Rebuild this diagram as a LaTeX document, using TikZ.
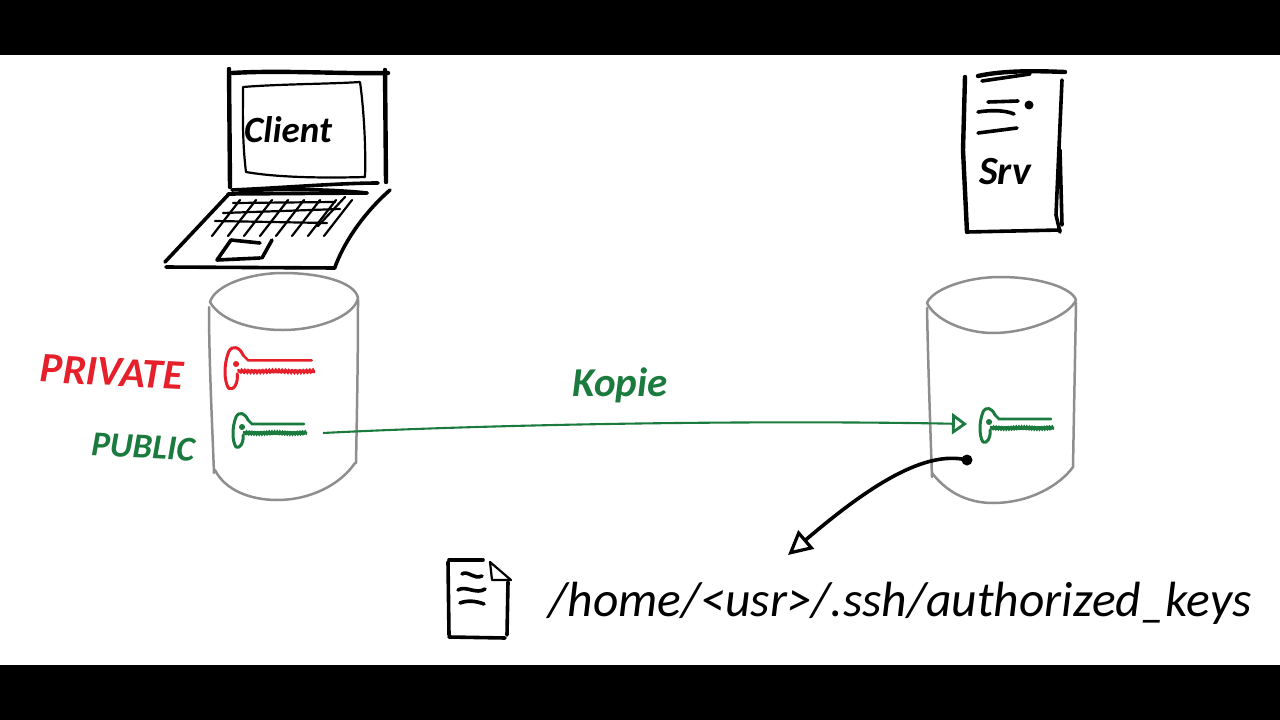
\documentclass[tikz,border=0pt]{standalone}
\usepackage{fontspec}
\setmainfont{Carlito}
\usepackage{tikz}
\usetikzlibrary{positioning}
\usetikzlibrary{arrows.meta}
\definecolor{keyred}{HTML}{E5202B}
\definecolor{keygreen}{HTML}{1B7A3D}
\definecolor{drumgray}{HTML}{8E8E8E}
\tikzset{keyicon/.pic={
    \draw[pic actions, line width=3pt, line cap=round, line join=round] (6,-7) .. controls (3,-14) and (-3,-16) .. (-6,-10) .. controls (-10,0) and (-10,14) .. (-6,20) .. controls (-2,22) and (2,16) .. (1,8);
    \draw[pic actions, line width=2.6pt, line cap=round] (6,-7) -- (10,-3) -- (62,-3);
    \draw[pic actions, line width=3pt, line cap=round] plot[domain=2:64, samples=70] (\x, {6+0.9*sin(\x*130)});
    \draw[pic actions, line width=6pt, line cap=round] (0,0) -- (0.1,0);
}}

\begin{document}
\begin{tikzpicture}[x=1pt, y=-1pt, pen/.style={line width=3.6pt, line cap=round, line join=round}, thinpen/.style={line width=2.2pt, line cap=round, line join=round}, drum/.style={draw=drumgray, line width=2.5pt, line cap=round, line join=round}, textnode/.style={inner sep=0pt, font=\fontsize{37}{37}\selectfont\bfseries\itshape}, dotnode/.style={circle, fill=black, inner sep=0pt, minimum size=11pt}, markdot/.style={circle, fill=black, inner sep=0pt, minimum size=9pt}]
    \useasboundingbox (0,0) rectangle (1280,720);
    \fill[black] (0,0) rectangle (1280,55);
    \fill[white] (0,55) rectangle (1280,665);
    \fill[black] (0,665) rectangle (1280,720);

    %Laptop
    \draw[pen, line width=4.4pt] (229,69) -- (230,187);
    \draw[pen, line width=4.4pt] (232,73) .. controls (280,70) and (340,74) .. (388,73);
    \draw[pen, line width=4.4pt] (385,70) -- (386,182);
    \draw[pen] (232,190) .. controls (280,188) and (340,183) .. (378,183);
    \draw[pen] (240,191) .. controls (290,188) and (340,190) .. (367,193);
    \draw[thinpen] (243,87) .. controls (280,84) and (330,84) .. (360,82) .. controls (364,110) and (366,150) .. (365,177) .. controls (330,178) and (280,178) .. (246,172) .. controls (242,140) and (243,110) .. (243,87);
    \draw[pen] (228,195) -- (165,262);
    \draw[pen] (166,267) -- (335,268);
    \draw[pen] (390,190) .. controls (365,212) and (345,240) .. (335,267);
    \draw[pen] (228,194) -- (367,193);
    \draw[thinpen] (233,203) -- (335,202);
    \draw[thinpen] (223,213) -- (340,209);
    \draw[thinpen] (215,221) -- (327,223);
    \foreach \k in {0,1,...,7}
        \draw[thinpen] ({212+\k*16},236) -- ({240+\k*16},200);
    \draw[thinpen] (345,197) -- (318,226);
    \draw[pen] (231,240) -- (260,243);
    \draw[pen] (231,240) -- (217,260);
    \draw[pen] (217,260) -- (260,258);
    \draw[pen] (272,240) -- (262,258);

    %Server
    \draw[pen, line width=4.4pt] (965,77) -- (963,150) -- (967,232);
    \draw[pen, line width=4.4pt] (978,76) .. controls (1005,70) and (1040,71) .. (1065,72);
    \draw[pen] (982,81) -- (1030,74);
    \draw[pen] (1062,80) -- (1056,215) -- (1060,232);
    \draw[pen] (1060,150) -- (1062,225);
    \draw[pen] (967,232) -- (1060,230);
    \draw[pen] (988,102) -- (1018,101);
    \draw[pen] (978,112) .. controls (990,110) and (1005,110) .. (1014,114);
    \draw[pen] (978,133) -- (1017,128);
    \node[markdot](srvdot) at (1029,105){};

    %Drums
    \draw[drum] (210,302) .. controls (215,285) and (250,273) .. (283,273) .. controls (320,273) and (355,282) .. (358,298) .. controls (355,315) and (320,330) .. (283,330) .. controls (250,330) and (220,320) .. (210,302);
    \draw[drum] (209,307) .. controls (209,360) and (212,420) .. (214,473);
    \draw[drum] (358,300) .. controls (358,360) and (357,410) .. (356,463);
    \draw[drum] (215,470) .. controls (225,490) and (250,500) .. (277,500) .. controls (310,500) and (340,485) .. (355,463);
    \draw[drum] (927,303) .. controls (932,290) and (965,277) .. (1000,277) .. controls (1040,277) and (1072,288) .. (1076,300) .. controls (1070,315) and (1030,333) .. (993,333) .. controls (965,333) and (935,320) .. (927,303);
    \draw[drum] (927,308) .. controls (928,360) and (930,420) .. (932,477);
    \draw[drum] (1076,303) .. controls (1075,360) and (1074,410) .. (1073,467);
    \draw[drum] (932,473) .. controls (945,490) and (965,503) .. (993,503) .. controls (1030,503) and (1060,485) .. (1073,467);

    %File
    \draw[pen] (449,560) -- (483,560);
    \draw[pen] (448,562) -- (449,635);
    \draw[pen] (449,637) -- (505,638);
    \draw[pen] (508,582) -- (507,635);
    \draw[thinpen] (490,562) -- (492,580) -- (511,580) -- cycle;
    \draw[pen] (462,574) .. controls (468,570) and (474,580) .. (482,576);
    \draw[pen] (458,590) .. controls (466,585) and (476,595) .. (485,589);
    \draw[pen] (460,603) .. controls (468,600) and (476,601) .. (484,604);

    %Keys
    \pic[draw=keyred, scale=1.22] at (236,364) {keyicon};
    \pic[draw=keygreen] at (242,427) {keyicon};
    \pic[draw=keygreen] at (989,422) {keyicon};

    %Nodes
    \node[textnode](client) at (288,130){Client};
    \node[textnode, font=\fontsize{40}{40}\selectfont\bfseries\itshape](srv) at (1005,172){Srv};
    \node[textnode, text=keyred, font=\fontsize{42}{42}\selectfont\bfseries\itshape, rotate=-3](private) at (112,372){PRIVATE};
    \node[textnode, text=keygreen, font=\fontsize{35}{35}\selectfont\bfseries\itshape, rotate=-3](public) at (143,447){PUBLIC};
    \node[textnode, text=keygreen, font=\fontsize{41}{41}\selectfont\bfseries\itshape](kopie) at (620,385){Kopie};
    \node[textnode, font=\fontsize{49.5}{50}\selectfont\itshape, anchor=center](keyspath) at (900,603){/home/<usr>/.ssh/authorized\_keys};
    \node[dotnode](filedot) at (967,460){};
    \coordinate (pubstart) at (323,433);
    \coordinate (srvend) at (967,424);
    \coordinate (filetip) at (788,555);

    %Lines
    \draw[keygreen, line width=2.1pt, -{Triangle[open, length=15pt, width=21pt, line width=2.8pt]}] (pubstart) .. controls (500,424) and (760,420) .. (srvend);
    \draw[black, line width=3.6pt, -{Triangle[open, length=24pt, width=24pt, line width=3.2pt]}] (filedot.center) .. controls (925,450) and (870,485) .. (filetip);

    \end{tikzpicture}
\end{document}
